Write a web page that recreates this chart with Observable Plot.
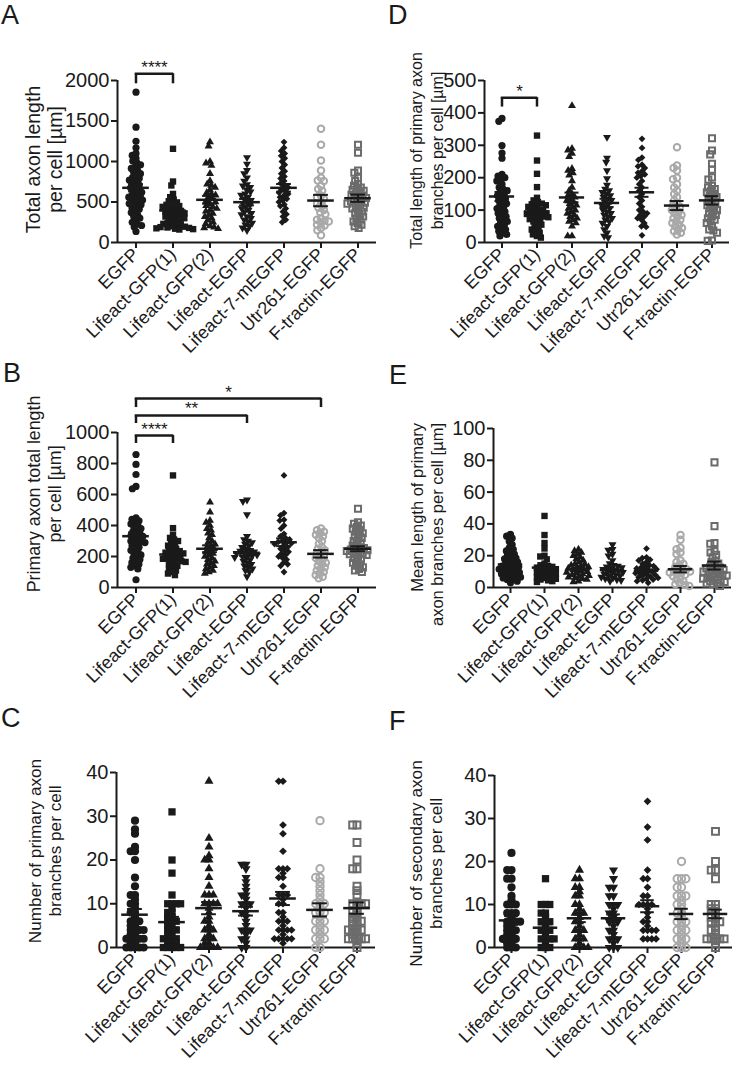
<!DOCTYPE html>
<html>
<head>
<meta charset="utf-8">
<script src="https://cdn.jsdelivr.net/npm/d3@7"></script>
<script src="https://cdn.jsdelivr.net/npm/@observablehq/plot@0.6"></script>
<style>
  body { margin: 0; background: #fff; }
  #page { position: relative; width: 736px; height: 1066px; font-family: "Liberation Sans", Arial, sans-serif; color: #1a1a1a; overflow: hidden; }
  .panel { position: absolute; }
  .letter { position: absolute; font-size: 27px; line-height: 27px; }
  svg g[aria-label="y-axis tick"], svg g[aria-label="fx-axis tick"] { stroke-width: 2px; }
  svg g[aria-label="y-axis tick label"] { font-size: 20px; }
  svg g[aria-label="fx-axis tick label"] { font-size: 18px; }
</style>
</head>
<body>
<div id="page"></div>
<script>
const categories = ["EGFP", "Lifeact-GFP(1)", "Lifeact-GFP(2)", "Lifeact-EGFP", "Lifeact-7-mEGFP", "Utr261-EGFP", "F-tractin-EGFP"];

// ---- A: Total axon length per cell [µm]
const totalAxonLength = [
  [1856, 1424, 1250, 1170, 1100, 1075, 1040, 1005, 985, 960, 935, 915, 890, 870, 850, 830, 805, 790, 770, 745, 725, 710, 690, 675, 655, 640, 620, 605, 590, 570, 560, 545, 525, 510, 495, 480, 465, 445, 425, 410, 390, 370, 345, 320, 300, 275, 250, 225, 210, 190, 136],
  [1157, 753, 704, 600, 560, 530, 510, 495, 480, 465, 450, 440, 425, 410, 400, 390, 380, 370, 360, 350, 340, 330, 320, 310, 300, 290, 280, 265, 250, 240, 230, 220, 210, 200, 195, 190, 185, 180, 175, 170, 165, 160],
  [1240, 1190, 1000, 980, 950, 850, 760, 720, 705, 680, 650, 615, 600, 585, 560, 540, 515, 500, 480, 455, 440, 420, 400, 385, 360, 340, 320, 300, 275, 250, 230, 205, 190, 180, 170],
  [1050, 970, 890, 850, 800, 760, 715, 700, 680, 650, 625, 600, 585, 560, 540, 520, 500, 485, 460, 440, 420, 400, 380, 360, 345, 320, 300, 280, 260, 240, 220, 200, 180, 150],
  [1240, 1170, 1130, 1100, 1070, 1040, 1000, 960, 920, 880, 850, 815, 790, 760, 730, 700, 680, 660, 640, 615, 600, 580, 560, 540, 520, 500, 470, 450, 420, 380, 350, 320, 280, 250],
  [1404, 1206, 1013, 889, 800, 765, 760, 700, 660, 640, 580, 560, 540, 500, 480, 450, 430, 400, 370, 350, 300, 280, 270, 260, 240, 220, 210, 180, 150, 90],
  [1206, 1108, 889, 861, 800, 760, 720, 700, 680, 660, 650, 640, 620, 600, 590, 580, 560, 550, 540, 520, 510, 500, 490, 480, 460, 450, 430, 420, 400, 380, 360, 340, 320, 300, 280, 260, 240, 220, 200, 180]
];
const totalAxonLengthMean = [675, 395, 527, 498, 675, 518, 547];
const totalAxonLengthSem = [45, 30, 48, 40, 47, 70, 45];
const totalAxonLengthTicks = [0, 500, 1000, 1500, 2000];

// ---- D: Total length of primary axon branches per cell [µm]
const primaryBranchLength = [
  [383, 374, 299, 276, 260, 210, 205, 200, 195, 190, 180, 170, 165, 160, 155, 150, 145, 140, 135, 130, 125, 120, 115, 110, 105, 100, 95, 90, 85, 80, 75, 70, 65, 60, 55, 50, 45, 40, 35, 30, 25, 20],
  [330, 253, 212, 171, 138, 130, 125, 120, 118, 115, 112, 110, 105, 100, 98, 95, 92, 90, 88, 85, 82, 80, 78, 75, 72, 70, 65, 60, 55, 50, 45, 40, 35, 30, 25, 20, 15],
  [422, 290, 285, 275, 265, 228, 222, 215, 208, 190, 170, 160, 150, 145, 140, 135, 130, 125, 120, 115, 110, 105, 100, 95, 90, 85, 80, 75, 70, 65, 60, 50, 20, 20],
  [325, 261, 248, 222, 197, 177, 165, 160, 155, 150, 145, 140, 135, 130, 125, 120, 115, 110, 105, 100, 95, 90, 85, 80, 75, 70, 65, 60, 50, 40, 30, 20, 15],
  [320, 292, 262, 255, 240, 235, 230, 220, 215, 210, 205, 200, 190, 180, 170, 160, 150, 140, 130, 120, 110, 100, 95, 90, 85, 80, 75, 70, 60, 50, 48, 22],
  [294, 238, 230, 222, 200, 195, 180, 170, 160, 150, 140, 130, 120, 115, 110, 105, 100, 95, 90, 85, 80, 75, 70, 65, 60, 55, 50, 45, 40, 35, 30, 25],
  [322, 284, 272, 243, 225, 201, 194, 175, 170, 165, 160, 155, 150, 145, 140, 135, 130, 125, 120, 115, 110, 105, 100, 95, 90, 85, 80, 75, 70, 65, 60, 50, 40, 37, 30, 6, 5]
];
const primaryBranchLengthMean = [142, 96, 139, 122, 155, 114, 130];
const primaryBranchLengthSem = [14, 11, 15, 13, 14, 14, 13];
const primaryBranchLengthTicks = [0, 100, 200, 300, 400, 500];

// ---- B: Primary axon total length per cell [µm]
const primaryAxonLength = [
  [858, 794, 729, 652, 637, 450, 440, 430, 420, 410, 400, 390, 380, 370, 360, 350, 340, 335, 330, 320, 310, 300, 295, 290, 280, 270, 260, 250, 240, 230, 220, 210, 200, 190, 180, 170, 160, 150, 140, 130, 120, 50],
  [723, 383, 340, 320, 310, 300, 290, 280, 270, 260, 250, 240, 235, 230, 225, 220, 215, 210, 200, 195, 190, 185, 180, 175, 170, 165, 160, 150, 140, 130, 120, 110, 100, 90, 80],
  [550, 486, 432, 420, 400, 380, 370, 350, 340, 320, 300, 290, 280, 270, 260, 250, 240, 230, 220, 210, 200, 190, 180, 170, 160, 150, 140, 130, 120, 110, 100, 90],
  [565, 556, 470, 330, 310, 300, 290, 280, 270, 260, 250, 240, 235, 230, 225, 220, 215, 210, 205, 200, 195, 190, 180, 170, 160, 150, 140, 130, 120, 110, 100, 70],
  [723, 480, 465, 437, 432, 400, 380, 346, 330, 320, 310, 300, 295, 290, 285, 280, 270, 260, 250, 240, 230, 220, 210, 200, 190, 180, 160, 150, 140, 100],
  [380, 370, 360, 350, 340, 330, 320, 300, 280, 260, 250, 240, 230, 220, 210, 200, 190, 180, 170, 160, 150, 140, 130, 120, 110, 100, 90, 80, 70, 60],
  [508, 421, 411, 400, 390, 380, 370, 360, 350, 340, 330, 320, 310, 300, 290, 280, 270, 260, 255, 250, 245, 240, 235, 230, 225, 220, 215, 210, 200, 190, 180, 170, 160, 150, 140, 130, 120, 110, 100]
];
const primaryAxonLengthMean = [331, 213, 250, 224, 292, 217, 250];
const primaryAxonLengthSem = [25, 18, 22, 20, 25, 24, 16];
const primaryAxonLengthTicks = [0, 200, 400, 600, 800, 1000];

// ---- E: Mean length of primary axon branches per cell [µm]
const meanBranchLength = [
  [33.5, 32.3, 31, 29, 27, 25, 24, 23, 22, 21, 20, 19, 18.5, 18, 17, 16.5, 16, 15, 14.5, 14, 13.5, 13, 12.5, 12, 11.5, 11, 10.5, 10, 9.5, 9, 8.5, 8, 7.5, 7, 6.5, 6, 5.5, 5, 4, 3],
  [45, 33, 28, 24.5, 20, 19.5, 17.7, 15, 14, 13.5, 13, 12.5, 12, 11.5, 11, 10.5, 10, 9.5, 9, 8.5, 8, 7.5, 7, 6.5, 6, 5.5, 5, 4.5, 4, 3.5],
  [24, 23, 22, 21, 20, 19, 18, 17, 16, 15, 14.5, 14, 13.5, 13, 12.5, 12, 11.5, 11, 10.5, 10, 9.5, 9, 8.5, 8, 7.5, 7, 6.5, 6, 5.5, 5, 4, 3.5],
  [27, 24, 23.5, 21, 20, 17, 15, 14, 13.5, 13, 12.5, 12, 11.5, 11, 10.5, 10, 9.5, 9, 8.5, 8, 7.5, 7, 6.5, 6, 5.5, 5, 4.5, 4],
  [24.5, 19, 18.5, 17.5, 17, 16, 15, 14, 13.5, 13, 12.5, 12, 11.5, 11, 10.5, 10, 9.5, 9, 8.5, 8, 7.5, 7, 6.5, 6, 5.5, 5, 4.5, 4, 3],
  [33, 30, 25, 24, 22, 21, 17, 16, 15, 14, 13, 12, 11.5, 11, 10.5, 10, 9.5, 9, 8.5, 8, 7, 6, 5, 4, 3, 2, 1.5, 1],
  [78.7, 38.6, 28, 27.5, 23, 22, 20.5, 19, 17, 16, 15, 14, 13, 12.5, 12, 11.5, 11, 10.5, 10, 9.5, 9, 8.5, 8, 7.5, 7, 6.5, 6, 5.5, 5, 4.5, 4, 3.5, 3, 2.5, 2, 1]
];
const meanBranchLengthMean = [14.5, 12.5, 11.5, 11, 10.5, 11.5, 13.8];
const meanBranchLengthSem = [1.2, 1.5, 0.9, 1.0, 0.9, 2.0, 2.5];
const meanBranchLengthTicks = [0, 20, 40, 60, 80, 100];

// ---- C: Number of primary axon branches per cell
const primaryBranchCount = [
  [29, 27, 26, 23, 22, 22, 20, 16, 14, 12, 12, 11, 10, 10, 9, 8, 8, 7, 6, 6, 6, 5, 5, 4, 4, 4, 4, 3, 3, 2, 2, 2, 2, 2, 1, 1, 0, 0, 0, 0, 0],
  [31, 20, 17, 12, 10, 10, 10, 10, 9, 8, 8, 7, 7, 6, 6, 6, 5, 5, 4, 4, 4, 3, 3, 2, 2, 2, 2, 1, 1, 1, 0, 0, 0, 0, 0],
  [38, 25, 23, 21, 20, 20, 18, 16, 14, 12, 12, 12, 10, 10, 10, 10, 9, 8, 7, 6, 6, 5, 4, 4, 4, 3, 2, 2, 2, 1, 1, 0, 0, 0, 0, 0],
  [19, 19, 18, 16, 15, 14, 13, 12, 12, 11, 10, 10, 10, 9, 8, 8, 7, 6, 5, 4, 4, 4, 3, 2, 2, 1, 0, 0],
  [38, 38, 28, 26, 22, 18, 18, 18, 17, 16, 16, 14, 12, 12, 12, 11, 10, 10, 8, 8, 7, 6, 6, 6, 5, 4, 4, 4, 4, 3, 2, 2, 2, 2, 2, 1],
  [29, 18, 16, 16, 15, 14, 13, 12, 11, 10, 10, 10, 9, 8, 8, 8, 7, 6, 6, 6, 5, 4, 4, 4, 3, 2, 2, 2, 0, 0],
  [28, 28, 24, 20, 18, 18, 14, 13, 12, 10, 10, 10, 10, 9, 8, 8, 7, 7, 6, 6, 6, 5, 5, 4, 4, 4, 4, 3, 3, 2, 2, 2, 2, 2, 1, 0]
];
const primaryBranchCountMean = [7.5, 5.8, 9.0, 8.3, 11.2, 8.6, 9.0];
const primaryBranchCountSem = [1.3, 1.2, 1.4, 1.0, 1.5, 1.5, 1.3];
const primaryBranchCountTicks = [0, 10, 20, 30, 40];

// ---- F: Number of secondary axon branches per cell
const secondaryBranchCount = [
  [22, 18, 18, 16, 16, 14, 12, 11, 10, 10, 10, 8, 8, 8, 7, 6, 6, 6, 6, 5, 5, 4, 4, 4, 3, 3, 2, 2, 2, 2, 1, 1, 0, 0, 0],
  [16, 10, 10, 10, 8, 8, 7, 6, 6, 6, 5, 4, 4, 4, 3, 2, 2, 2, 2, 1, 0, 0, 0],
  [18, 16, 16, 14, 14, 13, 12, 12, 10, 10, 9, 8, 8, 8, 7, 6, 6, 5, 4, 4, 4, 3, 2, 2, 2, 1, 0, 0, 0, 0],
  [18, 16, 14, 14, 12, 12, 10, 10, 10, 9, 8, 8, 7, 6, 6, 6, 5, 4, 4, 3, 2, 2, 2, 1, 0, 0, 0],
  [34, 28, 25, 18, 16, 16, 14, 12, 12, 10, 10, 10, 10, 9, 8, 7, 6, 6, 6, 5, 4, 4, 4, 4, 2, 2, 2, 2],
  [20, 16, 16, 16, 14, 14, 12, 12, 12, 11, 10, 10, 9, 8, 8, 7, 6, 6, 6, 5, 4, 4, 4, 3, 2, 2, 2, 1, 0, 0, 0],
  [27, 20, 18, 18, 16, 10, 10, 9, 9, 8, 7, 7, 6, 6, 6, 5, 5, 4, 4, 4, 3, 2, 2, 2, 2, 2, 1, 0]
];
const secondaryBranchCountMean = [6.3, 4.6, 6.8, 6.8, 9.6, 7.8, 7.8];
const secondaryBranchCountSem = [1.0, 0.8, 0.9, 0.9, 1.4, 1.2, 1.0];
const secondaryBranchCountTicks = [0, 10, 20, 30, 40];

// ---- significance brackets (EGFP vs. group)
const bracketsA = [{to: "Lifeact-GFP(1)", top: 2083, bottom: 1959, stars: "****"}];
const bracketsD = [{to: "Lifeact-GFP(1)", top: 447, bottom: 418, stars: "*"}];
const bracketsB = [
  {to: "Lifeact-GFP(1)", top: 980, bottom: 929, stars: "****"},
  {to: "Lifeact-EGFP", top: 1110, bottom: 1058, stars: "**"},
  {to: "Utr261-EGFP", top: 1219, bottom: 1161, stars: "*"}
];

// ---------------------------------------------------------------------------
const ink = "#1a1a1a";
const triUp = {draw(ctx, size) { const L = Math.sqrt(size) * 1.25, h = L * Math.sqrt(3) / 2; ctx.moveTo(0, -2 * h / 3); ctx.lineTo(L / 2, h / 3); ctx.lineTo(-L / 2, h / 3); ctx.closePath(); }};
const triDown = {draw(ctx, size) { const L = Math.sqrt(size) * 1.25, h = L * Math.sqrt(3) / 2; ctx.moveTo(0, 2 * h / 3); ctx.lineTo(L / 2, -h / 3); ctx.lineTo(-L / 2, -h / 3); ctx.closePath(); }};
const markerStyles = [
  {symbol: "circle", fill: ink, stroke: "none", k: 1},
  {symbol: "square", fill: ink, stroke: "none", k: 1},
  {symbol: triUp, fill: ink, stroke: "none", k: 1},
  {symbol: triDown, fill: ink, stroke: "none", k: 1},
  {symbol: "diamond2", fill: ink, stroke: "none", k: 0.85},
  {symbol: "circle", fill: "none", stroke: "#a9a9a9", strokeWidth: 2, k: 0.9},
  {symbol: "square", fill: "none", stroke: "#6b6b6b", strokeWidth: 2, k: 0.95}
];

function drawPanel(p) {
  const first = () => categories[0];
  const marks = [];
  // axis lines
  marks.push(Plot.ruleY([0], {stroke: ink, strokeWidth: 2}));
  marks.push(Plot.ruleX([0], {fx: first, x: () => -0.5, y1: () => 0, y2: () => p.ticks[p.ticks.length - 1], stroke: ink, strokeWidth: 2}));
  // dots
  categories.forEach((c, i) => {
    const s = markerStyles[i];
    const rr = p.r * s.k;
    marks.push(Plot.dot(p.values[i], Plot.dodgeX({anchor: "middle", padding: p.spread - 2 * rr}, {
      y: d => d, fx: () => c, r: rr, symbol: s.symbol,
      fill: s.fill, stroke: s.stroke, strokeWidth: s.strokeWidth || 1
    })));
  });
  // mean ± SEM
  const stats = categories.map((c, i) => ({c, m: p.mean[i], s: p.sem[i]}));
  marks.push(Plot.ruleY(stats, {fx: "c", y: "m", x1: () => -0.36, x2: () => 0.36, stroke: ink, strokeWidth: 2.5}));
  marks.push(Plot.ruleX(stats, {fx: "c", x: () => 0, y1: d => d.m - d.s, y2: d => d.m + d.s, stroke: ink, strokeWidth: 2}));
  marks.push(Plot.ruleY(stats, {fx: "c", y: d => d.m + d.s, x1: () => -0.2, x2: () => 0.2, stroke: ink, strokeWidth: 2}));
  marks.push(Plot.ruleY(stats, {fx: "c", y: d => d.m - d.s, x1: () => -0.2, x2: () => 0.2, stroke: ink, strokeWidth: 2}));
  // brackets
  (p.brackets || []).forEach(b => {
    const k = categories.indexOf(b.to);
    marks.push(Plot.ruleY([b], {fx: first, y: "top", x1: () => -0.02, x2: () => k + 0.02, stroke: ink, strokeWidth: 2.5}));
    marks.push(Plot.ruleX([b], {fx: first, x: () => 0, y1: "bottom", y2: "top", stroke: ink, strokeWidth: 2.5}));
    marks.push(Plot.ruleX([b], {fx: first, x: () => k, y1: "bottom", y2: "top", stroke: ink, strokeWidth: 2.5}));
    marks.push(Plot.text([b], {fx: first, x: () => k / 2, y: "top", text: "stars", lineAnchor: "bottom", dy: -1, fontSize: 17, fill: ink}));
  });
  // y label
  marks.push(Plot.text([p.label], {fx: first, frameAnchor: "left", text: d => d, rotate: -90, dx: p.ldx, dy: p.ldy,
    fontSize: p.lfs, lineHeight: p.lgap / p.lfs, textAnchor: p.lanchor || "middle", lineAnchor: "middle", fill: ink}));

  const svg = Plot.plot({
    width: p.width, height: p.height,
    marginLeft: p.mL, marginRight: p.mR, marginTop: p.mT, marginBottom: p.mB,
    style: {fontFamily: "Liberation Sans, Arial, sans-serif", fontSize: "20px", color: ink, background: "transparent", overflow: "visible"},
    x: {domain: [-0.5, 0.5], axis: null},
    y: {domain: [0, p.ticks[p.ticks.length - 1]], ticks: p.ticks, tickSize: 6, tickPadding: 2, label: null, tickFormat: d => String(d)},
    fx: {domain: categories, padding: 0, label: null, tickRotate: -45, tickSize: 6, tickPadding: 3},
    marks
  });
  const div = document.createElement("div");
  div.className = "panel";
  div.style.left = p.left + "px";
  div.style.top = p.top + "px";
  div.appendChild(svg);
  document.getElementById("page").appendChild(div);
}

const page = document.getElementById("page");
[["A", 1, 2], ["D", 388, 2], ["B", 3, 360], ["E", 389, 362], ["C", 1, 705], ["F", 389, 708]].forEach(([t, x, y]) => {
  const d = document.createElement("div");
  d.className = "letter"; d.textContent = t; d.style.left = x + "px"; d.style.top = y + "px";
  page.appendChild(d);
});

drawPanel({left: 0, top: 40, width: 380, height: 320, mL: 116, mR: 4, mT: 40, mB: 118,
  values: totalAxonLength, mean: totalAxonLengthMean, sem: totalAxonLengthSem, ticks: totalAxonLengthTicks,
  r: 3.6, spread: 4.3, brackets: bracketsA, label: "Total axon length\nper cell [µm]", ldx: -74, ldy: -2, lfs: 19.5, lgap: 22});
drawPanel({left: 368, top: 40, width: 368, height: 320, mL: 115, mR: 6, mT: 40, mB: 118,
  values: primaryBranchLength, mean: primaryBranchLengthMean, sem: primaryBranchLengthSem, ticks: primaryBranchLengthTicks,
  r: 3.6, spread: 4.3, brackets: bracketsD, label: "Total length of primary axon\nbranches per cell [µm]", ldx: -59, ldy: -11, lfs: 16, lgap: 21.5});
drawPanel({left: 0, top: 380, width: 380, height: 330, mL: 116, mR: 4, mT: 52, mB: 123,
  values: primaryAxonLength, mean: primaryAxonLengthMean, sem: primaryAxonLengthSem, ticks: primaryAxonLengthTicks,
  r: 3.6, spread: 4.3, brackets: bracketsB, label: "Primary axon total length\nper cell [µm]", ldx: -74, ldy: -16, lfs: 17.8, lgap: 21.5});
drawPanel({left: 368, top: 380, width: 368, height: 330, mL: 124, mR: 4, mT: 48, mB: 123,
  values: meanBranchLength, mean: meanBranchLengthMean, sem: meanBranchLengthSem, ticks: meanBranchLengthTicks,
  r: 3.6, spread: 4.3, brackets: [], label: "Mean length of primary\naxon branches per cell [µm]", ldx: -67, ldy: -85, lfs: 16.5, lgap: 20, lanchor: "end"});
drawPanel({left: 0, top: 740, width: 380, height: 326, mL: 114, mR: 4, mT: 32, mB: 119,
  values: primaryBranchCount, mean: primaryBranchCountMean, sem: primaryBranchCountSem, ticks: primaryBranchCountTicks,
  r: 4.1, spread: 4.3, brackets: [], label: "Number of primary axon\nbranches per cell", ldx: -72, ldy: -9, lfs: 17.2, lgap: 20});
drawPanel({left: 368, top: 740, width: 368, height: 326, mL: 124, mR: 2, mT: 35, mB: 119,
  values: secondaryBranchCount, mean: secondaryBranchCountMean, sem: secondaryBranchCountSem, ticks: secondaryBranchCountTicks,
  r: 4.1, spread: 4.3, brackets: [], label: "Number of secondary axon\nbranches per cell", ldx: -69, ldy: 2, lfs: 17.2, lgap: 20});
</script>
</body>
</html>
